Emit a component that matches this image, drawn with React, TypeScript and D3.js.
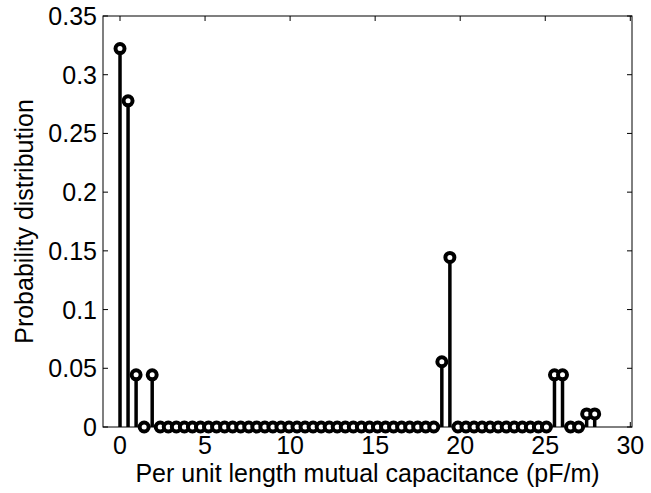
import React from "react";
import * as d3 from "d3";

const step = 0.473;
// probability values (k/90) for 60 equally spaced capacitance bins
const counts = [
  29, 25, 4, 0, 4, 0, 0, 0, 0, 0,
  0, 0, 0, 0, 0, 0, 0, 0, 0, 0,
  0, 0, 0, 0, 0, 0, 0, 0, 0, 0,
  0, 0, 0, 0, 0, 0, 0, 0, 0, 0,
  5, 13, 0, 0, 0, 0, 0, 0, 0, 0,
  0, 0, 0, 0, 4, 4, 0, 0, 1, 1,
];
const probs = counts.map((c) => c / 90);
const xs = counts.map((_, i) => i * step);
const xTicks = [0, 5, 10, 15, 20, 25, 30];
const yTicks = [0, 0.05, 0.1, 0.15, 0.2, 0.25, 0.3, 0.35];
const xLabel = "Per unit length mutual capacitance (pF/m)";
const yLabel = "Probability distribution";

export default function App() {
  const W = 651, H = 493;
  const L = 103, R = 632, T = 16, B = 427;
  const x = d3.scaleLinear().domain([-1, 30.1]).range([L, R]);
  const y = d3.scaleLinear().domain([0, 0.35]).range([B, T]);
  const font = "Arial, 'Liberation Sans', sans-serif";
  const fs = 25;
  const tl = 5;
  return (
    <svg width={W} height={H} style={{ position: "absolute", left: 0, top: 0, background: "#fff" }}>
      <rect x={0} y={0} width={W} height={H} fill="#fff" />
      {/* stems */}
      {xs.map((xv, i) => (
        <line key={"s" + i} x1={x(xv)} x2={x(xv)} y1={y(0)} y2={y(probs[i])} stroke="#000" strokeWidth={3.5} />
      ))}
      {/* axes box */}
      <rect x={L} y={T} width={R - L} height={B - T} fill="none" stroke="#000" strokeWidth={1} />
      {xTicks.map((t) => (
        <g key={"xt" + t}>
          <line x1={x(t)} x2={x(t)} y1={B} y2={B - tl} stroke="#000" />
          <line x1={x(t)} x2={x(t)} y1={T} y2={T + tl} stroke="#000" />
          <text x={x(t)} y={454} fontSize={fs} fontFamily={font} textAnchor="middle">{t}</text>
        </g>
      ))}
      {yTicks.map((t) => (
        <g key={"yt" + t}>
          <line x1={L} x2={L + tl} y1={y(t)} y2={y(t)} stroke="#000" />
          <line x1={R} x2={R - tl} y1={y(t)} y2={y(t)} stroke="#000" />
          <text x={97} y={y(t) + 9} fontSize={fs} fontFamily={font} textAnchor="end">{String(t)}</text>
        </g>
      ))}
      {/* markers */}
      {xs.map((xv, i) => (
        <circle key={"m" + i} cx={x(xv)} cy={y(probs[i])} r={4.5} fill="#fff" stroke="#000" strokeWidth={4} />
      ))}
      <text x={(L + R) / 2} y={482} fontSize={fs} fontFamily={font} textAnchor="middle">{xLabel}</text>
      <text transform={`translate(33,${(T + B) / 2}) rotate(-90)`} fontSize={fs} fontFamily={font} textAnchor="middle">{yLabel}</text>
    </svg>
  );
}
